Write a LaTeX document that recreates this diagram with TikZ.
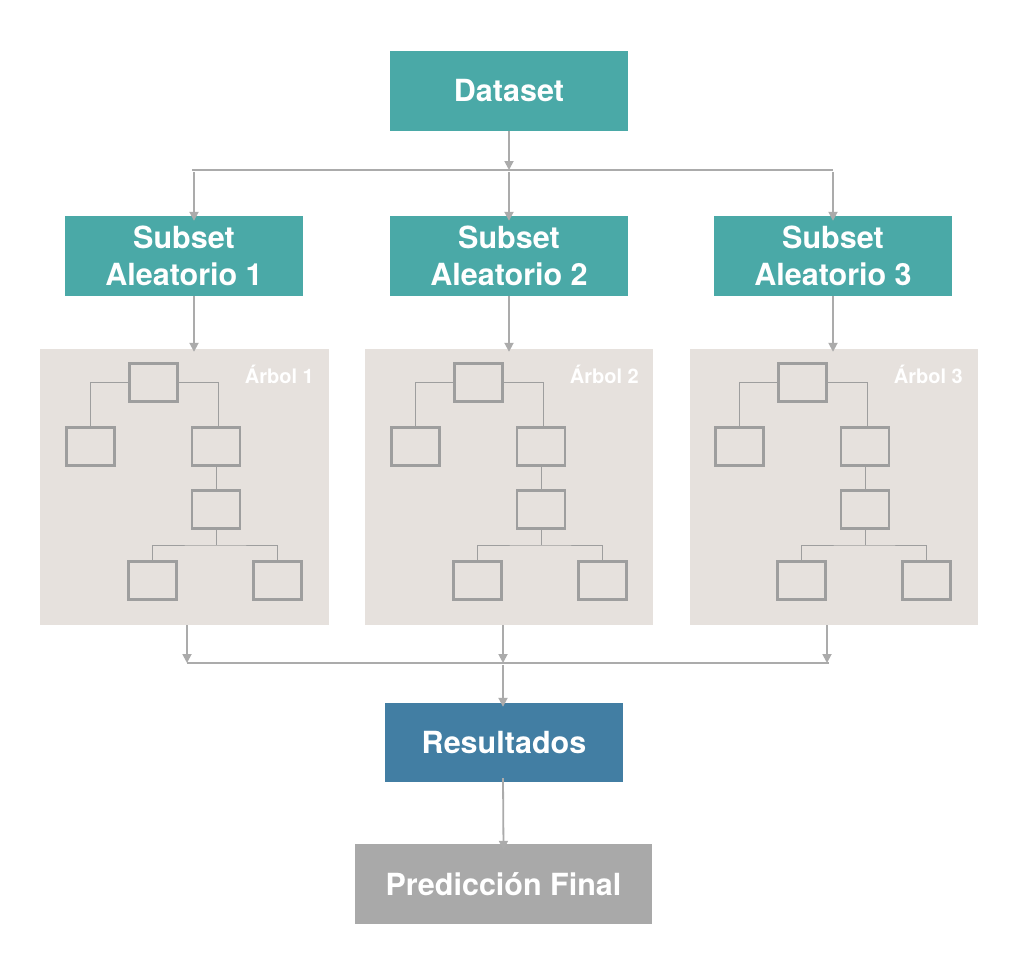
\documentclass[tikz,border=0pt]{standalone}
\usepackage{fontspec}
\setmainfont{TeX Gyre Heros}
\usetikzlibrary{arrows.meta}
\definecolor{teal1}{HTML}{4AA9A7}
\definecolor{blue1}{HTML}{427EA3}
\definecolor{grey1}{HTML}{A9A9A9}
\definecolor{treebg}{HTML}{E6E1DD}
\definecolor{linegrey}{HTML}{ABABAB}
\definecolor{nodegrey}{HTML}{9E9E9E}
\tikzset{
  mainbox/.style={rectangle, inner sep=0pt, text=white, align=center,
    font=\fontsize{30.5bp}{37bp}\selectfont\bfseries},
  tealbox/.style={mainbox, fill=teal1, minimum width=238bp, minimum height=80bp},
  treebox/.style={rectangle, fill=treebg, inner sep=0pt, minimum width=288bp, minimum height=276bp},
  tnode/.style={rectangle, draw=nodegrey, line width=2.3bp, inner sep=0pt, minimum width=48bp, minimum height=38bp},
  tline/.style={draw=nodegrey, line width=1bp},
  conn/.style={draw=linegrey, line width=1.8bp},
  arr/.style={conn, -{Triangle[width=9bp,length=9bp]}},
  treelabel/.style={text=white, inner sep=0pt, font=\fontsize{20bp}{24bp}\selectfont\bfseries}
}
\begin{document}
\begin{tikzpicture}[x=1bp,y=-1bp]
\useasboundingbox (0,0) rectangle (1024,966);
\fill[white] (0,0) rectangle (1024,966);

% main boxes
\node[tealbox] (ds) at (509,91) {Dataset};
\node[tealbox] (sub1) at (184,256) {Subset\\Aleatorio 1};
\node[tealbox] (sub2) at (509,256) {Subset\\Aleatorio 2};
\node[tealbox] (sub3) at (833,256) {Subset\\Aleatorio 3};
\node[treebox] (t1) at (184.5,487) {};
\node[treebox] (t2) at (509,487) {};
\node[treebox] (t3) at (833.5,487) {};
\node[mainbox, fill=blue1, minimum width=238bp, minimum height=79bp] (res) at (504,742.5) {Resultados};
\node[mainbox, fill=grey1, minimum width=297bp, minimum height=80bp] (pred) at (503.5,884) {Predicción Final};

% trees
\foreach \i/\x in {1/40,2/365,3/689}{
  \begin{scope}[shift={(\x,349)}]
    \node[tnode] (r\i)  at (113.5,33.5) {};
    \node[tnode] (lc\i) at (50.5,97.5) {};
    \node[tnode] (rc\i) at (176,97.5) {};
    \node[tnode] (m\i)  at (176,160.5) {};
    \node[tnode] (bl\i) at (112.5,231.5) {};
    \node[tnode] (br\i) at (237.5,231.5) {};
    \coordinate (j\i) at (176,196);
    \node[treelabel, anchor=east] (lab\i) at (274,25) {Árbol \i};
  \end{scope}
  \draw[tline] (r\i.west) -| (lc\i.north);
  \draw[tline] (r\i.east) -| ([xshift=2bp]rc\i.north);
  \draw[tline] (rc\i.south) -- (m\i.north);
  \draw[tline] (m\i.south) -- (j\i);
  \draw[tline] (bl\i.north) |- (j\i) -| (br\i.north);
}

% top distribution
\coordinate (hl) at (192,170);
\coordinate (hr) at (833,170);
\coordinate (hm) at (509,170);
\draw[arr] (ds.south) -- (hm);
\draw[conn] (hl) -- (hr);
\coordinate (a1) at (194,172);
\coordinate (a2) at (509,172);
\coordinate (a3) at (833,172);
\draw[arr] (a1) -- ([xshift=10bp,yshift=-5bp]sub1.north);
\draw[arr] (a2) -- ([yshift=-5bp]sub2.north);
\draw[arr] (a3) -- ([yshift=-5bp]sub3.north);

% subsets to trees
\draw[arr] ([xshift=10bp]sub1.south) -- ([xshift=9.5bp,yshift=-3bp]t1.north);
\draw[arr] (sub2.south) -- ([yshift=-3bp]t2.north);
\draw[arr] (sub3.south) -- ([xshift=-0.5bp,yshift=-3bp]t3.north);

% trees to results
\coordinate (bl) at (187,663);
\coordinate (br) at (829,663);
\coordinate (bm) at (503,665);
\draw[arr] ([xshift=2.5bp]t1.south) -- (187,663);
\draw[arr] ([xshift=-6bp]t2.south) -- (503,663);
\draw[arr] ([xshift=-6.5bp]t3.south) -- (827,663);
\draw[conn] (bl) -- (br);
\draw[arr] (bm) -- ([xshift=-1bp,yshift=-4bp]res.north);
\draw[arr] ([xshift=-1bp,yshift=4bp]res.south) -- ([yshift=-6bp]pred.north);
\end{tikzpicture}
\end{document}
